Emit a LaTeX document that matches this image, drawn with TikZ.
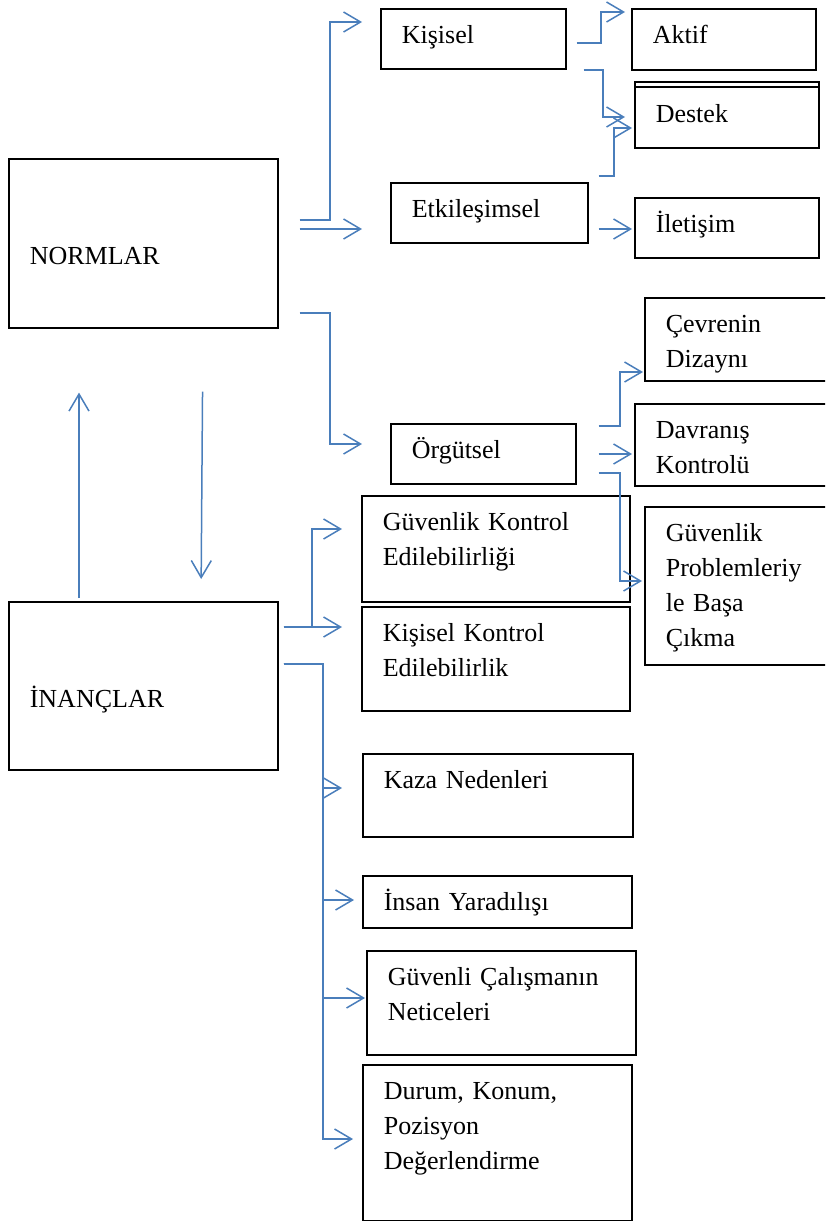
\documentclass[tikz,border=0pt]{standalone}
\usepackage{fontspec}
\setmainfont{Liberation Serif}
\usetikzlibrary{arrows.meta}
\definecolor{okmavi}{RGB}{74,126,187}
\begin{document}
\begin{tikzpicture}[x=1pt,y=-1pt,
  kutu/.style 2 args={draw,line width=1.6pt,anchor=north west,align=left,
    inner xsep=21pt,inner ysep=0pt,text width=#1-42pt,
    text height=35pt,text depth=#2-35pt,font=\fontsize{26}{35}\selectfont},
  ok/.style={draw=okmavi,line width=1.5pt,-{Straight Barb[length=17pt,width=20pt]}}]
\useasboundingbox (0,0) rectangle (825,1221);
\clip (0,0) rectangle (825,1221);
\node[kutu={269pt}{169pt},text height=106pt,text depth=63pt] (normlar) at (8,158) {NORMLAR};
\node[kutu={269pt}{168pt},text height=106pt,text depth=62pt] (inanclar) at (8,601) {İNANÇLAR};
\node[kutu={185pt}{60pt}] (kisisel) at (380,8) {Kişisel};
\node[kutu={197pt}{60pt}] (etkilesim) at (390,182) {Etkileşimsel};
\node[kutu={185pt}{60pt}] (orgutsel) at (390,423) {Örgütsel};
\node[kutu={184pt}{61pt}] (aktif) at (631,8) {Aktif};
\node[kutu={184pt}{66pt},text height=41pt,text depth=25pt] (destek) at (634,81) {Destek};
\draw[line width=1.6pt] ([yshift=-6pt]destek.north west) -- ([yshift=-6pt]destek.north east);
\node[kutu={184pt}{60pt}] (iletisim) at (634,197) {İletişim};
\node[kutu={190pt}{83pt}] (cevre) at (644,297) {Çevrenin\\Dizaynı};
\node[kutu={200pt}{82pt}] (davranis) at (634,403) {Davranış\\Kontrolü};
\node[kutu={190pt}{158pt}] (gpbc) at (644,506) {Güvenlik\\Problemleriy\\le Başa\\Çıkma};
\node[kutu={268pt}{106pt}] (gke) at (361,495) {Güvenlik Kontrol\\Edilebilirliği};
\node[kutu={268pt}{104pt}] (kke) at (361,606) {Kişisel Kontrol\\Edilebilirlik};
\node[kutu={270pt}{83pt}] (kaza) at (362,753) {Kaza Nedenleri};
\node[kutu={269pt}{52pt}] (insan) at (362,875) {İnsan Yaradılışı};
\node[kutu={269pt}{104pt}] (guvenli) at (366,950) {Güvenli Çalışmanın\\Neticeleri};
\node[kutu={269pt}{156pt}] (durum) at (362,1064) {Durum, Konum,\\Pozisyon\\Değerlendirme};

\draw[ok,shorten <=21pt,shorten >=18pt] (normlar.east |- 0,220) -| (330,22) -- (kisisel.west |- 0,22);
\draw[ok,shorten <=21pt,shorten >=28pt] (normlar.east |- 0,229) -- (etkilesim.west |- 0,229);
\draw[ok,shorten <=21pt,shorten >=28pt] (normlar.east |- 0,313) -| (330,444) -- (orgutsel.west |- 0,444);
\draw[ok,shorten <=10pt,shorten >=6pt] (kisisel.east |- 0,43) -| (601,12) -- (aktif.west |- 0,12);
\draw[ok,shorten <=17pt,shorten >=9pt] (kisisel.east |- 0,70) -| (603,117) -- (destek.west |- 0,117);
\draw[ok,shorten <=10pt,shorten >=2pt] (etkilesim.east |- 0,176) -| (614,128) -- (destek.west |- 0,128);
\draw[ok,shorten <=10pt,shorten >=2pt] (etkilesim.east |- 0,229) -- (iletisim.west |- 0,229);
\draw[ok,shorten <=22pt,shorten >=1pt] (orgutsel.east |- 0,426) -| (620,372) -- (cevre.west |- 0,372);
\draw[ok,shorten <=22pt,shorten >=2pt] (orgutsel.east |- 0,454) -- (davranis.west |- 0,454);
\draw[ok,shorten <=22pt,shorten >=2pt] (orgutsel.east |- 0,473) -| (620,581) -- (gpbc.west |- 0,581);
\draw[ok,shorten <=5pt,shorten >=19pt] (inanclar.east |- 0,627) -| (312,529) -- (gke.west |- 0,529);
\draw[ok,shorten <=5pt,shorten >=19pt] (inanclar.east |- 0,627) -- (kke.west |- 0,627);
\draw[ok,shorten <=5pt,shorten >=20pt] (inanclar.east |- 0,664) -| (323,788) -- (kaza.west |- 0,788);
\draw[ok,shorten <=5pt,shorten >=8pt] (inanclar.east |- 0,664) -| (323,900) -- (insan.west |- 0,900);
\draw[ok,shorten <=5pt,shorten >=1pt] (inanclar.east |- 0,664) -| (323,998) -- (guvenli.west |- 0,998);
\draw[ok,shorten <=5pt,shorten >=9pt] (inanclar.east |- 0,664) -| (323,1139) -- (durum.west |- 0,1139);
\draw[ok,shorten <=3pt,shorten >=64pt] (inanclar.north -| 79,0) -- (normlar.south -| 79,0);
\draw[ok,shorten <=63pt,shorten >=22pt] (normlar.south -| 203,0) -- (inanclar.north -| 201,0);
\end{tikzpicture}
\end{document}
